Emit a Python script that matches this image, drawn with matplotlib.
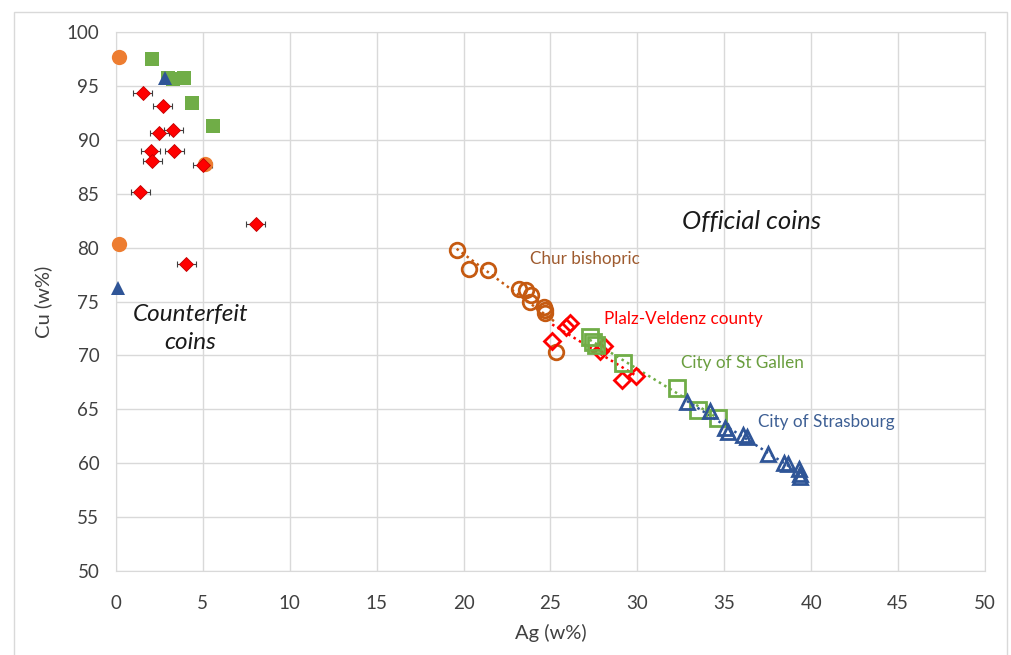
import numpy as np
import matplotlib
matplotlib.use("Agg")
from matplotlib import pyplot as plt
from matplotlib.patches import Rectangle

plt.rcParams['font.family'] = ['Lato', 'DejaVu Sans']

# counterfeit coins
cf_orange_x = [0.2, 0.2, 5.1]
cf_orange_y = [97.7, 80.3, 87.8]
cf_blue_x = [2.8, 0.1]
cf_blue_y = [95.7, 76.3]
cf_green_x = [2.1, 3.0, 3.3, 3.9, 4.4, 5.6]
cf_green_y = [97.5, 95.7, 95.6, 95.7, 93.4, 91.3]
cf_red_x = [1.55, 2.7, 3.3, 2.5, 2.0, 3.35, 2.1, 5.0, 1.4, 8.05, 4.05]
cf_red_y = [94.3, 93.1, 90.9, 90.6, 89.0, 89.0, 88.0, 87.7, 85.2, 82.2, 78.5]
cf_red_err = 0.55

# official coins
chur_x = [19.6, 20.3, 21.4, 23.2, 23.6, 23.9, 23.8, 24.6, 24.7, 24.7, 25.3]
chur_y = [79.8, 78.0, 77.9, 76.2, 76.1, 75.6, 75.0, 74.5, 74.2, 73.9, 70.3]
plalz_x = [25.9, 26.1, 25.1, 28.1, 27.85, 29.1, 29.9]
plalz_y = [72.6, 73.0, 71.3, 70.9, 70.4, 67.7, 68.1]
gallen_x = [27.25, 27.45, 27.6, 29.2, 32.3, 33.5, 34.65]
gallen_y = [71.7, 71.2, 71.0, 69.3, 67.0, 64.9, 64.2]
stras_x = [32.85, 34.2, 35.05, 35.2, 36.1, 36.3, 37.5, 38.45, 38.65, 39.3, 39.35, 39.35]
stras_y = [65.7, 64.8, 63.3, 62.9, 62.6, 62.4, 60.85, 60.0, 59.9, 59.5, 59.0, 58.7]

fig = plt.figure(figsize=(10.11, 6.55), dpi=100)
ax = fig.add_axes([0.1147, 0.1282, 0.8596, 0.8229])

# chart area border
fig.patches.append(Rectangle((14 / 1011, -0.01), 993 / 1011, 1 - 12 / 655 + 0.01,
                             transform=fig.transFigure, fill=False,
                             edgecolor='#D9D9D9', linewidth=1))

# counterfeit
ax.errorbar(cf_red_x, cf_red_y, xerr=cf_red_err, fmt='none', ecolor='#404040',
            elinewidth=0.8, capsize=2.5, capthick=0.8, zorder=3)
ax.plot(cf_red_x, cf_red_y, 'D', color='#FF0000', ms=7, mec='#C00000', mew=0.6, zorder=4)
ax.plot(cf_green_x, cf_green_y, 's', color='#70AD47', ms=10, mew=0, zorder=4)
ax.plot(cf_orange_x, cf_orange_y, 'o', color='#ED7D31', ms=11, mew=0, zorder=3, clip_on=False)
ax.plot(cf_blue_x, cf_blue_y, '^', color='#2F5597', ms=10, mew=0, zorder=4, clip_on=False)


def group(xs, ys, marker, color, ms):
    xs = np.array(xs)
    ys = np.array(ys)
    k, b = np.polyfit(xs, ys, 1)
    xl = np.array([xs.min(), xs.max()])
    ax.plot(xl, k * xl + b, linestyle=(0, (1, 1.5)), color=color, linewidth=1.8, zorder=2)
    ax.plot(xs, ys, marker, mfc='none', mec=color, mew=2, ms=ms, linestyle='none', zorder=3)


group(chur_x, chur_y, 'o', '#C55A11', 10.5)
group(plalz_x, plalz_y, 'D', '#FF0000', 8)
group(gallen_x, gallen_y, 's', '#70AD47', 11)
group(stras_x, stras_y, '^', '#2F5597', 10)

lab = dict(fontsize=12.3, va='center_baseline')
ax.text(23.8, 79.1, 'Chur bishopric', color='#9E5A2E', **lab)
ax.text(28.1, 73.55, 'Plalz-Veldenz county', color='#FF0000', **lab)
ax.text(32.5, 69.4, 'City of St Gallen', color='#6A9E3F', **lab)
ax.text(36.95, 64.0, 'City of Strasbourg', color='#3D5F94', **lab)
ax.text(32.55, 82.6, 'Official coins', fontsize=18.5, style='italic', va='center_baseline',
        color='#1A1A1A')
ax.text(4.3, 72.5, 'Counterfeit\ncoins', fontsize=17.5, style='italic', ha='center', va='center',
        color='#1A1A1A', linespacing=1.4)

ax.set_xlim(0, 50)
ax.set_ylim(50, 100)
ax.set_xticks(np.arange(0, 51, 5))
ax.set_yticks(np.arange(50, 101, 5))
ax.grid(True, color='#D9D9D9', linewidth=1)
ax.set_axisbelow(True)
for s in ax.spines.values():
    s.set_color('#D9D9D9')
ax.tick_params(length=0, labelsize=13.5, colors='#404040')
ax.tick_params(axis='x', pad=17)
ax.tick_params(axis='y', pad=12)
ax.set_xlabel('Ag (w%)', fontsize=14.5, color='#404040', labelpad=9)
ax.set_ylabel('Cu (w%)', fontsize=14.5, color='#404040', labelpad=10)

fig.savefig('out.png', dpi=100)
